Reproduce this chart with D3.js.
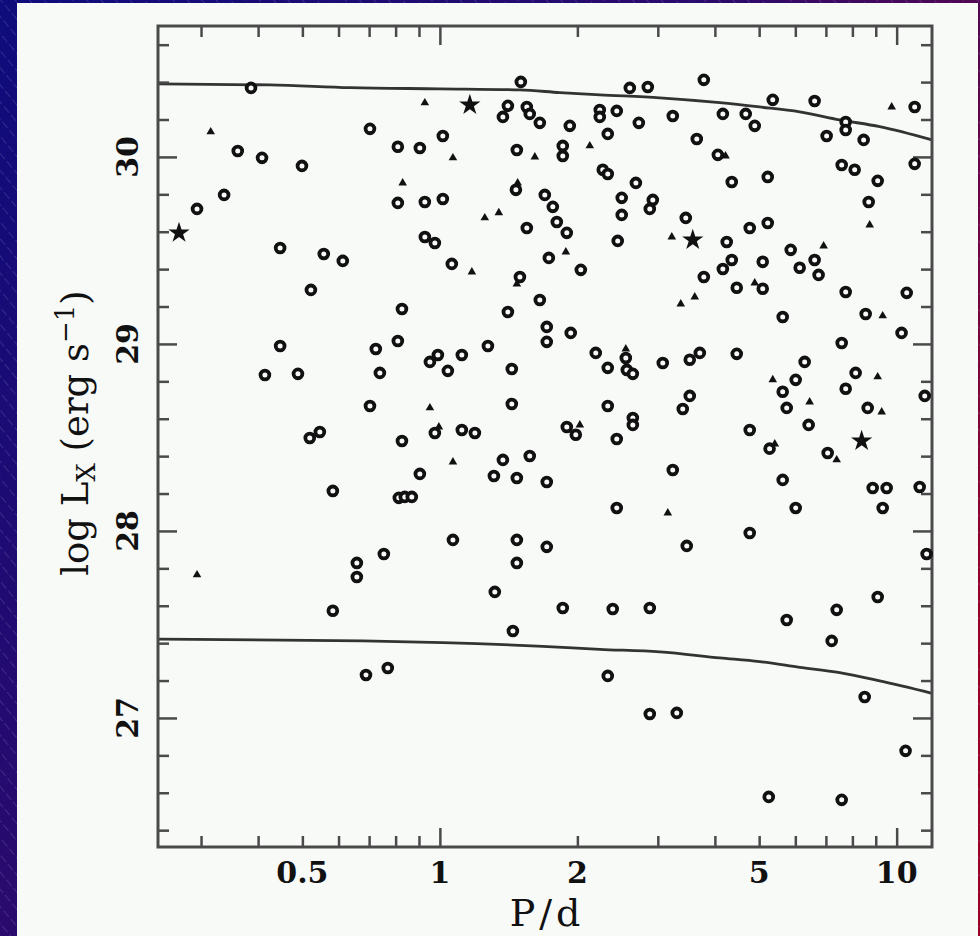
<!DOCTYPE html>
<html>
<head>
<meta charset="utf-8">
<script src="https://cdn.jsdelivr.net/npm/d3@7"></script>
<style>
  html, body { margin: 0; padding: 0; background: #fff; }
  svg { display: block; }
</style>
</head>
<body>
<div id="chart"></div>
<script>
// [P (days), log Lx]
const circlePts = [
  [0.386,30.369],[1.504,30.401],[2.605,30.369],[2.852,30.374],[3.783,30.412],
  [1.409,30.273],[1.374,30.214],[1.550,30.267],[1.573,30.230],[1.655,30.182],
  [1.925,30.166],[0.703,30.150],[1.015,30.112],[0.361,30.032],[0.408,29.995],
  [0.499,29.952],[0.809,30.054],[0.904,30.048],[1.474,30.037],[1.858,30.059],
  [1.858,30.005],[0.809,29.754],[0.927,29.759],[1.015,29.775],[1.467,29.824],
  [1.697,29.797],[1.767,29.733],[1.803,29.652],[1.896,29.594],[1.550,29.620],
  [0.337,29.797],[0.294,29.722],[0.447,29.513],[0.557,29.481],[0.613,29.444],
  [0.927,29.572],[0.975,29.540],[1.062,29.428],[1.497,29.358],[1.732,29.460],
  [0.522,29.289],[1.655,29.235],[2.239,30.251],[2.239,30.214],[2.439,30.246],
  [2.331,30.123],[2.726,30.182],[3.235,30.219],[4.164,30.230],[4.673,30.230],
  [4.890,30.166],[5.355,30.305],[6.613,30.299],[10.95,30.267],[3.651,30.096],
  [7.026,30.112],[7.734,30.187],[7.734,30.144],[8.467,30.091],[2.273,29.931],
  [2.331,29.909],[4.06,30.011],[7.580,29.957],[8.092,29.931],[9.088,29.872],
  [10.95,29.963],[2.686,29.861],[4.355,29.866],[5.221,29.893],[2.501,29.781],
  [2.501,29.690],[2.925,29.770],[2.881,29.722],[3.454,29.674],[4.246,29.545],
  [4.768,29.620],[5.221,29.647],[8.685,29.759],[2.451,29.551],[2.035,29.396],
  [5.862,29.503],[6.613,29.449],[6.133,29.407],[6.747,29.369],[4.355,29.449],
  [4.164,29.401],[5.091,29.439],[3.783,29.358],[4.466,29.300],[5.091,29.295],
  [7.734,29.278],[10.52,29.273],[0.826,29.187],[1.409,29.171],[1.714,29.091],
  [1.714,29.011],[0.447,28.989],[0.724,28.973],[0.809,29.016],[1.274,28.989],
  [0.951,28.904],[0.990,28.941],[1.117,28.941],[1.041,28.856],[1.437,28.866],
  [0.414,28.834],[0.489,28.840],[0.739,28.845],[0.703,28.668],[1.437,28.679],
  [0.519,28.497],[0.546,28.529],[0.826,28.481],[0.975,28.524],[1.117,28.540],
  [1.193,28.524],[1.374,28.380],[1.573,28.401],[0.904,28.305],[1.313,28.294],
  [1.474,28.283],[1.714,28.262],[0.583,28.214],[0.813,28.177],[0.838,28.182],
  [0.868,28.182],[1.068,27.952],[1.474,27.952],[1.714,27.915],[0.754,27.877],
  [0.658,27.829],[1.474,27.829],[0.658,27.754],[5.630,29.144],[8.554,29.160],
  [10.25,29.059],[1.934,29.059],[2.194,28.952],[2.331,28.872],[2.553,28.925],
  [2.566,28.861],[2.645,28.840],[3.076,28.898],[3.524,28.915],[3.707,28.952],
  [4.466,28.947],[7.580,29.005],[6.289,28.904],[6.011,28.808],[8.132,28.845],
  [7.734,28.760],[5.630,28.744],[5.745,28.658],[8.641,28.658],[11.52,28.722],
  [2.331,28.668],[2.645,28.604],[2.645,28.567],[1.896,28.556],[1.984,28.514],
  [2.439,28.492],[3.524,28.722],[3.402,28.652],[4.768,28.540],[6.417,28.567],
  [5.27,28.440],[7.063,28.417],[3.235,28.326],[5.630,28.273],[8.862,28.230],
  [9.508,28.230],[11.23,28.235],[2.439,28.123],[6.011,28.123],[9.320,28.123],
  [4.768,27.989],[3.471,27.920],[11.63,27.877],[0.583,27.573],[1.319,27.674],
  [1.445,27.465],[0.689,27.230],[0.769,27.267],[1.858,27.588],[2.390,27.583],
  [2.881,27.588],[5.745,27.524],[7.391,27.578],[9.088,27.647],[7.207,27.412],
  [2.331,27.225],[2.881,27.021],[3.301,27.027],[8.511,27.112],[10.46,26.824],
  [5.248,26.578],[7.580,26.562]
];

const trianglePts = [
  [0.315,30.134],[0.927,30.289],[1.068,29.995],[1.614,30.000],[0.829,29.861],
  [1.254,29.674],[1.346,29.701],[1.175,29.385],[1.474,29.321],[2.129,30.059],
  [3.219,29.572],[8.729,29.636],[6.920,29.524],[4.890,29.326],[3.614,29.251],
  [3.368,29.214],[9.752,30.267],[9.320,29.150],[0.951,28.658],[1.068,28.369],
  [0.294,27.765],[2.553,28.973],[5.355,28.808],[9.088,28.824],[6.449,28.690],
  [9.273,28.636],[2.025,28.567],[7.391,28.380],[3.155,28.096],[0.995,28.556],
  [1.887,29.492],[4.22,30.005],[1.48,29.861],[5.41,28.465]
];

const starPts = [[0.2685,29.594],[1.163,30.278],[3.578,29.556],[8.382,28.481]];

// envelope curves
const upperP = [0.2415,0.4246,0.6355,1.0,1.497,1.831,2.239,3.03,4.101,5.01,6.133,7.504,9.18,11.95];
const upperL = [30.390,30.385,30.370,30.364,30.358,30.344,30.332,30.316,30.290,30.267,30.241,30.198,30.162,30.091];
const lowerP = [0.2415,0.6785,1.015,1.68,2.239,3.03,4.101,5.01,6.133,7.504,9.18,11.95];
const lowerL = [27.421,27.412,27.403,27.383,27.367,27.353,27.321,27.301,27.271,27.242,27.198,27.132];

const xMajor = [1, 10];
const xMinor = [0.3,0.4,0.5,0.6,0.7,0.8,0.9,2,3,4,5,6,7,8,9];
const xLabels = [0.5, 1, 2, 5, 10];
const yMajor = [27, 28, 29, 30];
const yMinor = [26.4,26.6,26.8,27.2,27.4,27.6,27.8,28.2,28.4,28.6,28.8,29.2,29.4,29.6,29.8,30.2,30.4,30.6];
const yLabels = [27, 28, 29, 30];

const W = 980, H = 936;
const L0 = 158, R0 = 932, T0 = 26, B0 = 847;

const svg = d3.select("#chart").append("svg")
  .attr("width", W).attr("height", H);

// hatched gradient backdrop
const defs = svg.append("defs");
const grad = defs.append("linearGradient").attr("id", "bg")
  .attr("x1", "0").attr("y1", "0").attr("x2", "1").attr("y2", "0.7");
grad.append("stop").attr("offset", "0%").attr("stop-color", "#0e0c7c");
grad.append("stop").attr("offset", "50%").attr("stop-color", "#2c0a6c");
grad.append("stop").attr("offset", "100%").attr("stop-color", "#9a0024");
const pat = defs.append("pattern").attr("id", "hatch")
  .attr("width", 11).attr("height", 11)
  .attr("patternUnits", "userSpaceOnUse")
  .attr("patternTransform", "rotate(-40)");
pat.append("line").attr("x1", 0).attr("y1", 0).attr("x2", 0).attr("y2", 11)
  .attr("stroke", "rgba(190,190,230,0.3)").attr("stroke-width", 1.2)
  .attr("stroke-dasharray", "4,3");

svg.append("rect").attr("width", W).attr("height", H).attr("fill", "url(#bg)");
svg.append("rect").attr("width", W).attr("height", H).attr("fill", "url(#hatch)");
svg.append("rect").attr("x", 17).attr("y", 3).attr("width", 961).attr("height", H)
  .attr("fill", "#f8faf8");

const x = d3.scaleLog().domain([0.2415, 11.95]).range([L0, R0]);
const y = d3.scaleLinear().domain([26.31, 30.70]).range([B0, T0]);

const g = svg.append("g");

// envelope lines
const line = d3.line().x(d => x(d[0])).y(d => y(d[1])).curve(d3.curveMonotoneX);
g.append("path").datum(upperP.map((p, i) => [p, upperL[i]]))
  .attr("d", line).attr("fill", "none").attr("stroke", "#333").attr("stroke-width", 2.8);
g.append("path").datum(lowerP.map((p, i) => [p, lowerL[i]]))
  .attr("d", line).attr("fill", "none").attr("stroke", "#333").attr("stroke-width", 2.8);

// axes: ticks point inward on all four sides
const axisColor = "#4a4a4a";
function ticks(gen, vals, len, tx, ty) {
  const a = g.append("g").attr("transform", "translate(" + tx + "," + ty + ")")
    .call(gen.tickValues(vals).tickSize(-len).tickFormat(""));
  a.select(".domain").remove();
  a.selectAll("line").attr("stroke", axisColor).attr("stroke-width", 2.5);
}
ticks(d3.axisBottom(x), xMinor, 11, 0, B0);
ticks(d3.axisBottom(x), xMajor, 19, 0, B0);
ticks(d3.axisTop(x), xMinor, 11, 0, T0);
ticks(d3.axisTop(x), xMajor, 19, 0, T0);
ticks(d3.axisLeft(y), yMinor, 11, L0, 0);
ticks(d3.axisLeft(y), yMajor, 19, L0, 0);
ticks(d3.axisRight(y), yMinor, 11, R0, 0);
ticks(d3.axisRight(y), yMajor, 19, R0, 0);

g.append("rect").attr("x", L0).attr("y", T0).attr("width", R0 - L0).attr("height", B0 - T0)
  .attr("fill", "none").attr("stroke", axisColor).attr("stroke-width", 3);

const tickFont = "DejaVu Serif";
g.selectAll(".xl").data(xLabels).enter().append("text")
  .attr("x", d => x(d)).attr("y", 883)
  .attr("text-anchor", "middle")
  .attr("font-family", tickFont).attr("font-weight", "bold").attr("font-size", 30)
  .attr("fill", "#111")
  .text(d => d);

g.selectAll(".yl").data(yLabels).enter().append("text")
  .attr("transform", d => "translate(138," + y(d) + ") rotate(-90)")
  .attr("text-anchor", "middle")
  .attr("font-family", tickFont).attr("font-weight", "bold").attr("font-size", 30)
  .attr("fill", "#111")
  .text(d => d);

// axis titles
svg.append("text")
  .attr("x", 547).attr("y", 926)
  .attr("text-anchor", "middle")
  .attr("font-family", "DejaVu Serif").attr("font-size", 38)
  .attr("letter-spacing", 4)
  .attr("fill", "#111")
  .text("P/d");

const yt = svg.append("text")
  .attr("transform", "translate(88,433) rotate(-90)")
  .attr("text-anchor", "middle")
  .attr("font-family", "DejaVu Serif").attr("font-size", 37)
  .attr("fill", "#111");
yt.append("tspan").text("log L");
yt.append("tspan").attr("font-size", 26).attr("dy", 7).text("X");
yt.append("tspan").attr("dy", -7).text(" (erg s");
yt.append("tspan").attr("font-size", 26).attr("dy", -14).text("\u22121");
yt.append("tspan").attr("dy", 14).text(")");

// markers
g.selectAll(".c").data(circlePts).enter().append("circle")
  .attr("cx", d => x(d[0])).attr("cy", d => y(d[1]))
  .attr("r", 4.4)
  .attr("fill", "#f8faf8").attr("stroke", "#111").attr("stroke-width", 3.8);

g.selectAll(".t").data(trianglePts).enter().append("path")
  .attr("transform", d => "translate(" + x(d[0]) + "," + y(d[1]) + ")")
  .attr("d", d3.symbol().type(d3.symbolTriangle).size(32))
  .attr("fill", "#111");

g.selectAll(".s").data(starPts).enter().append("path")
  .attr("transform", d => "translate(" + x(d[0]) + "," + y(d[1]) + ")")
  .attr("d", d3.symbol().type(d3.symbolStar).size(140))
  .attr("fill", "#111");
</script>
</body>
</html>
